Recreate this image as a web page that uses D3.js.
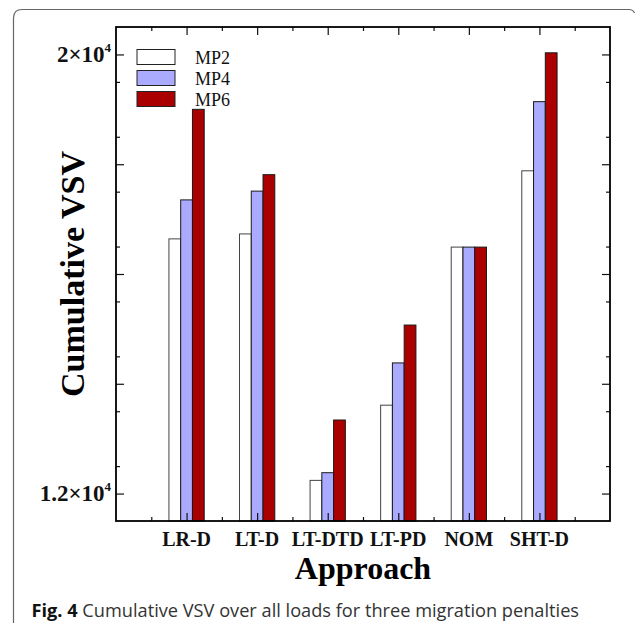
<!DOCTYPE html>
<html>
<head>
<meta charset="utf-8">
<script src="https://cdn.jsdelivr.net/npm/d3@7/dist/d3.min.js"></script>
<style>
  html, body { margin: 0; padding: 0; background: #fff; }
  svg { display: block; }
</style>
</head>
<body>
<script>
// Cumulative VSV per approach, for three migration penalties
const categories = ["LR-D", "LT-D", "LT-DTD", "LT-PD", "NOM", "SHT-D"];
const seriesNames = ["MP2", "MP4", "MP6"];
const mp2 = [16640, 16730, 12240, 13610, 16490, 17880];
const mp4 = [17350, 17510, 12380, 14380, 16490, 19140];
const mp6 = [19000, 17810, 13340, 15070, 16490, 20030];
const seriesColors = ["#ffffff", "#aaaaff", "#aa0000"];
const yLabelTicks = [12000, 20000];
const yLabelText = { 12000: ["1.2×10", "4"], 20000: ["2×10", "4"] };

const W = 635, H = 634;
const svg = d3.select("body").append("svg").attr("width", W).attr("height", H);

// Outer panel border (rounded top-left corner, continues past the bottom)
svg.append("path")
  .attr("d", "M13.5,623 L13.5,18 Q13.5,9.5 22,9.5 L629,9.5 Q633,9.5 634.5,13")
  .attr("fill", "none").attr("stroke", "#666").attr("stroke-width", 1.2);

const pLeft = 116, pRight = 610, pTop = 27, pBottom = 521;
const x = d3.scaleLinear().domain([0, 7]).range([pLeft, pRight]);
const y = d3.scaleLinear().domain([11500, 20500]).range([pBottom, pTop]);

const series = [mp2, mp4, mp6];
const barW = x(1 / 6) - x(0);

// Bars
series.forEach((vals, si) => {
  svg.append("g").selectAll("rect")
    .data(vals)
    .join("rect")
    .attr("x", (d, i) => x(i + 1) + (si - 1.5) * barW)
    .attr("y", d => y(d))
    .attr("width", barW)
    .attr("height", d => pBottom - y(d))
    .attr("fill", seriesColors[si])
    .attr("stroke", si === 0 ? "#444" : "#1a1a1a")
    .attr("stroke-width", 1);
});

// Ticks (all pointing inward), drawn with d3 axes
const yMajor = [12000, 14000, 16000, 18000, 20000];
const yMinor = d3.range(12500, 20000, 1000);
const xMajor = d3.range(1, 7);
const xMinor = d3.range(0.5, 7, 1);

function addAxis(axisFn, scale, vals, size, tx, ty) {
  svg.append("g")
    .attr("transform", `translate(${tx},${ty})`)
    .call(axisFn(scale).tickValues(vals).tickSize(size).tickFormat(""))
    .call(g => g.select(".domain").remove())
    .call(g => g.selectAll(".tick line").attr("stroke", "#111").attr("stroke-width", 1.2));
}
addAxis(d3.axisLeft, y, yMajor, -8, pLeft, 0);
addAxis(d3.axisLeft, y, yMinor, -4, pLeft, 0);
addAxis(d3.axisRight, y, yMajor, -8, pRight, 0);
addAxis(d3.axisRight, y, yMinor, -4, pRight, 0);
addAxis(d3.axisBottom, x, xMajor, -8, 0, pBottom);
addAxis(d3.axisBottom, x, xMinor, -4, 0, pBottom);
addAxis(d3.axisTop, x, xMajor, -8, 0, pTop);
addAxis(d3.axisTop, x, xMinor, -4, 0, pTop);

// Plot frame
svg.append("rect")
  .attr("x", pLeft).attr("y", pTop)
  .attr("width", pRight - pLeft).attr("height", pBottom - pTop)
  .attr("fill", "none").attr("stroke", "#000").attr("stroke-width", 1.8);

// Y tick labels with superscript exponent
const serif = "'Liberation Serif', 'Times New Roman', serif";
yLabelTicks.forEach(v => {
  const t = svg.append("text")
    .attr("x", 111).attr("y", y(v) + 7.5)
    .attr("text-anchor", "end")
    .attr("font-family", serif).attr("font-weight", "bold")
    .attr("font-size", 23).attr("fill", "#111");
  t.append("tspan").text(yLabelText[v][0]);
  t.append("tspan").attr("font-size", 13).attr("dy", -10).text(yLabelText[v][1]);
});

// X tick labels
svg.append("g").selectAll("text")
  .data(categories)
  .join("text")
  .attr("x", (d, i) => x(i + 1))
  .attr("y", 545.5)
  .attr("text-anchor", "middle")
  .attr("font-family", serif).attr("font-weight", "bold")
  .attr("font-size", 20).attr("fill", "#111")
  .text(d => d);

// Axis titles
svg.append("text")
  .attr("x", (pLeft + pRight) / 2).attr("y", 579)
  .attr("text-anchor", "middle")
  .attr("font-family", serif).attr("font-weight", "bold")
  .attr("font-size", 32).attr("fill", "#000")
  .text("Approach");

svg.append("text")
  .attr("transform", `translate(84,${(pTop + pBottom) / 2}) rotate(-90)`)
  .attr("text-anchor", "middle")
  .attr("font-family", serif).attr("font-weight", "bold")
  .attr("font-size", 34).attr("fill", "#000")
  .text("Cumulative VSV");

// Legend
const legend = svg.append("g");
seriesNames.forEach((name, i) => {
  const ly = 49.5 + i * 21;
  legend.append("rect")
    .attr("x", 137).attr("y", ly).attr("width", 38).attr("height", 15)
    .attr("fill", seriesColors[i]).attr("stroke", "#222").attr("stroke-width", 1);
  legend.append("text")
    .attr("x", 195).attr("y", ly + 14.8)
    .attr("font-family", serif).attr("font-size", 18).attr("fill", "#111")
    .text(name);
});

// Caption
const cap = svg.append("text")
  .attr("x", 31.5).attr("y", 616.5)
  .attr("font-family", "'Open Sans', 'Noto Sans', sans-serif")
  .attr("font-size", 18.2).attr("fill", "#333");
cap.append("tspan").attr("font-weight", "bold").attr("fill", "#111").text("Fig. 4");
cap.append("tspan").text(" Cumulative VSV over all loads for three migration penalties");
</script>
</body>
</html>
